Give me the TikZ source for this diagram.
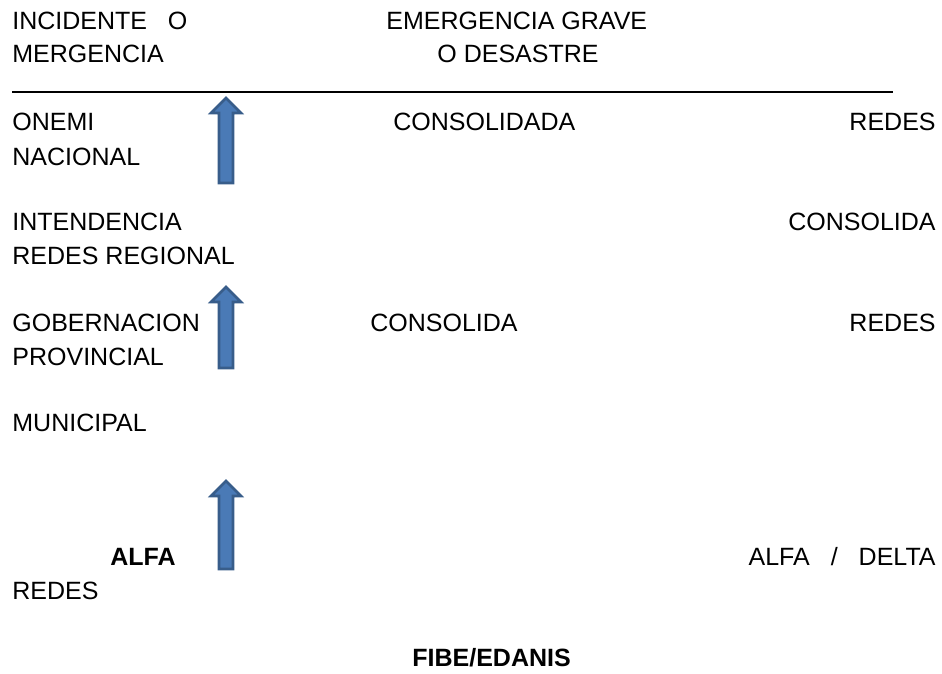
\documentclass[tikz,border=0pt]{standalone}
\usepackage{fontspec}
\setmainfont{Liberation Sans}
\usetikzlibrary{positioning}
\definecolor{arrowfill}{RGB}{74,122,182}
\definecolor{arrowedge}{RGB}{56,93,138}
\tikzset{
  lbl/.style={anchor=base west, inner sep=0pt, font=\fontsize{12.5}{15}\selectfont},
  lblr/.style={lbl, anchor=base east},
  uparrow/.style={fill=arrowfill, draw=arrowedge, line width=1.3pt, line join=miter}
}
\begin{document}
\begin{tikzpicture}[x=0.5pt, y=-0.5pt]
    \useasboundingbox (0,0) rectangle (942,674);
    % Header
    \node[lbl] (inc) at (12,29.5) {INCIDENTE~~~O};
    \node[lbl] (merg) at (12,63) {MERGENCIA};
    \node[lbl] (emerg) at (386,29.5) {EMERGENCIA GRAVE};
    \node[lbl] (desastre) at (437,63) {O DESASTRE};
    \coordinate (lineL) at (12,92);
    \coordinate (lineR) at (893,92);
    \draw[line width=1.3pt] (lineL) -- (lineR);
    % Levels
    \node[lbl] (onemi) at (12,131) {ONEMI};
    \node[lbl] (nacional) at (12,165) {NACIONAL};
    \node[lbl] (consolidada) at (393,131) {CONSOLIDADA};
    \node[lblr] (redesA) at (936,131) {REDES};
    \node[lbl] (intend) at (12,230) {INTENDENCIA};
    \node[lbl] (redesreg) at (12,264) {REDES REGIONAL};
    \node[lblr] (consolidaA) at (936,230) {CONSOLIDA};
    \node[lbl] (gober) at (12,331) {GOBERNACION};
    \node[lbl] (provincial) at (12,365) {PROVINCIAL};
    \node[lbl] (consolidaB) at (370,331) {CONSOLIDA};
    \node[lblr] (redesB) at (936,331) {REDES};
    \node[lbl] (municipal) at (12,431) {MUNICIPAL};
    \node[lbl, font=\fontsize{12.5}{15}\selectfont\bfseries] (alfa) at (110,565) {ALFA};
    \node[lbl] (redesC) at (12,599) {REDES};
    \node[lblr] (alfadelta) at (936,565) {ALFA\hspace{10.5pt}/\hspace{10.5pt}DELTA};
    \node[lbl, font=\fontsize{12.5}{15}\selectfont\bfseries] (fibe) at (412,666) {FIBE/EDANIS};
    % Block arrows
    \foreach \tip/\bot in {98/183, 287/368, 481/569} {
        \draw[uparrow] (226,\tip) -- (241,\tip+15) -- (233,\tip+15) -- (233,\bot)
            -- (219,\bot) -- (219,\tip+15) -- (211,\tip+15) -- cycle;
    }
\end{tikzpicture}
\end{document}
